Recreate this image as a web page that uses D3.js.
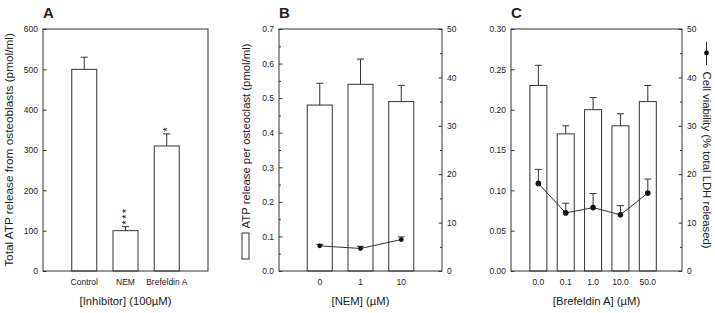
<!DOCTYPE html>
<html>
<head>
<meta charset="utf-8">
<script src="https://cdn.jsdelivr.net/npm/d3@7"></script>
<style>
  body { margin: 0; background: #fff; }
  svg text { font-family: "Liberation Sans", Arial, sans-serif; fill: #222; }
</style>
</head>
<body>
<div id="chart"></div>
<script>
// Panel A - total ATP release from osteoblasts
const catsA = ["Control", "NEM", "Brefeldin A"];
const atpA = [500, 100, 310];
const errA = [30, 10, 30];
const starsA = ["", "***", "*"];

// Panel B - NEM dose response
const nemDoses = ["0", "1", "10"];
const atpB = [0.48, 0.54, 0.49];
const errB = [0.063, 0.073, 0.047];
const ldhB = [5.2, 4.65, 6.5];
const ldhErrB = [0.3, 0.45, 0.55];

// Panel C - Brefeldin A dose response
const brefDoses = ["0.0", "0.1", "1.0", "10.0", "50.0"];
const atpC = [0.23, 0.17, 0.20, 0.18, 0.21];
const errC = [0.025, 0.01, 0.015, 0.015, 0.02];
const ldhC = [18.1, 12.0, 13.1, 11.6, 16.1];
const ldhErrC = [2.9, 2.0, 2.9, 1.9, 2.9];

// tick labels
const ticksA = [0, 100, 200, 300, 400, 500, 600];
const ticksB = [0, 0.1, 0.2, 0.3, 0.4, 0.5, 0.6, 0.7];
const ticksC = [0, 0.05, 0.10, 0.15, 0.20, 0.25, 0.30];
const ticksLdh = [0, 10, 20, 30, 40, 50];

const W = 715, H = 313;
const TOP = 29, BOTTOM = 271;
const ink = "#333";

const svg = d3.select("#chart").append("svg")
    .attr("width", W).attr("height", H);

// one framed panel with bars (+ optional line on right axis)
function drawPanel(opt) {
    const g = svg.append("g");
    const x = d3.scaleLinear().domain(opt.xDomain).range([opt.x0, opt.x1]);
    const y = d3.scaleLinear().domain(opt.yDomain).range([BOTTOM, TOP]);

    // left axis, ticks pointing inward
    g.append("g").attr("transform", `translate(${opt.x0},0)`)
        .call(d3.axisLeft(y).tickValues(opt.yTicks).tickSize(-3.5).tickPadding(5)
            .tickFormat(d3.format(opt.yFmt)));
    if (opt.yMinor) {
        g.append("g").attr("transform", `translate(${opt.x0},0)`)
            .call(d3.axisLeft(y).tickValues(opt.yMinor).tickSize(-2).tickFormat(""));
    }

    // bars
    g.selectAll("rect.bar").data(opt.values).enter().append("rect")
        .attr("class", "bar")
        .attr("x", (d, i) => x(i + 1) - opt.barW / 2)
        .attr("y", d => y(d))
        .attr("width", opt.barW)
        .attr("height", d => BOTTOM - y(d))
        .attr("fill", "#fff").attr("stroke", ink).attr("stroke-width", 1);

    // error bars (upper only)
    const eb = g.selectAll("g.err").data(opt.values).enter().append("g");
    eb.append("line")
        .attr("x1", (d, i) => x(i + 1)).attr("x2", (d, i) => x(i + 1))
        .attr("y1", d => y(d)).attr("y2", (d, i) => y(d + opt.errs[i]))
        .attr("stroke", ink);
    eb.append("line")
        .attr("x1", (d, i) => x(i + 1) - 3.5).attr("x2", (d, i) => x(i + 1) + 3.5)
        .attr("y1", (d, i) => y(d + opt.errs[i])).attr("y2", (d, i) => y(d + opt.errs[i]))
        .attr("stroke", ink);

    // right axis + viability line
    if (opt.line) {
        const y2 = d3.scaleLinear().domain([0, 50]).range([BOTTOM, TOP]);
        g.append("g").attr("transform", `translate(${opt.x1},0)`)
            .call(d3.axisRight(y2).tickValues(ticksLdh).tickSize(-3.5).tickPadding(5));
        g.append("g").attr("transform", `translate(${opt.x1},0)`)
            .call(d3.axisRight(y2).tickValues([5, 15, 25, 35, 45]).tickSize(-2).tickFormat(""));

        g.append("path")
            .datum(opt.line)
            .attr("d", d3.line().x((d, i) => x(i + 1)).y(d => y2(d)))
            .attr("fill", "none").attr("stroke", ink).attr("stroke-width", 1);
        const le = g.selectAll("g.lerr").data(opt.line).enter().append("g");
        le.append("line")
            .attr("x1", (d, i) => x(i + 1)).attr("x2", (d, i) => x(i + 1))
            .attr("y1", d => y2(d)).attr("y2", (d, i) => y2(d + opt.lineErr[i]))
            .attr("stroke", ink);
        le.append("line")
            .attr("x1", (d, i) => x(i + 1) - 3.5).attr("x2", (d, i) => x(i + 1) + 3.5)
            .attr("y1", (d, i) => y2(d + opt.lineErr[i])).attr("y2", (d, i) => y2(d + opt.lineErr[i]))
            .attr("stroke", ink);
        g.selectAll("circle.pt").data(opt.line).enter().append("circle")
            .attr("cx", (d, i) => x(i + 1)).attr("cy", d => y2(d))
            .attr("r", opt.dotR).attr("fill", "#111");
    }

    // frame
    g.append("rect").attr("x", opt.x0).attr("y", TOP)
        .attr("width", opt.x1 - opt.x0).attr("height", BOTTOM - TOP)
        .attr("fill", "none").attr("stroke", ink).attr("stroke-width", 1);

    g.selectAll(".domain").remove();
    g.selectAll(".tick line").attr("stroke", ink);
    g.selectAll(".tick text").attr("font-size", 8.5).attr("fill", "#222");

    // category labels
    g.selectAll("text.cat").data(opt.cats).enter().append("text")
        .attr("x", (d, i) => x(i + 1)).attr("y", 285)
        .attr("text-anchor", "middle").attr("font-size", 8.5)
        .text(d => d);

    // x title
    g.append("text").attr("x", (opt.x0 + opt.x1) / 2).attr("y", 305)
        .attr("text-anchor", "middle").attr("font-size", 11.3)
        .text(opt.xTitle);

    // panel letter
    g.append("text").attr("x", opt.x0).attr("y", 18)
        .attr("font-size", 15).attr("font-weight", "bold").attr("fill", "#111")
        .text(opt.letter);

    return { g, x, y };
}

// Panel A
const pA = drawPanel({
    x0: 43, x1: 208, xDomain: [0, 4], yDomain: [0, 600],
    yTicks: ticksA, yFmt: "d", values: atpA, errs: errA, barW: 25,
    cats: catsA, xTitle: "[Inhibitor] (100\u00b5M)", letter: "A"
});
// significance stars, stacked vertically above the error cap
starsA.forEach((s, i) => {
    if (!s) return;
    const top = pA.y(atpA[i] + errA[i]) - 2;
    pA.g.append("text")
        .attr("transform", `translate(${pA.x(i + 1) + 4},${top}) rotate(-90)`)
        .attr("text-anchor", "start").attr("font-size", 11.5)
        .attr("letter-spacing", 1.2)
        .attr("fill", "#222")
        .text(s);
});
svg.append("text")
    .attr("transform", "translate(13,150) rotate(-90)")
    .attr("text-anchor", "middle").attr("font-size", 11.8)
    .text("Total ATP release from osteoblasts (pmol/ml)");

// Panel B
drawPanel({
    x0: 279, x1: 442, xDomain: [0, 4], yDomain: [0, 0.7],
    yTicks: ticksB, yFmt: ".1f", yMinor: [0.05, 0.15, 0.25, 0.35, 0.45, 0.55, 0.65],
    values: atpB, errs: errB, barW: 25,
    line: ldhB, lineErr: ldhErrB, dotR: 2.4,
    cats: nemDoses, xTitle: "[NEM] (\u00b5M)", letter: "B"
});
svg.append("text")
    .attr("transform", "translate(249.5,136) rotate(-90)")
    .attr("text-anchor", "middle").attr("font-size", 11.3)
    .text("ATP release per osteoclast (pmol/ml)");
svg.append("rect")
    .attr("x", 242).attr("y", 233).attr("width", 7).attr("height", 26)
    .attr("fill", "#fff").attr("stroke", ink);

// Panel C
drawPanel({
    x0: 511, x1: 682, xDomain: [0, 6.25], yDomain: [0, 0.30],
    yTicks: ticksC, yFmt: ".2f",
    values: atpC, errs: errC, barW: 17,
    line: ldhC, lineErr: ldhErrC, dotR: 2.8,
    cats: brefDoses, xTitle: "[Brefeldin A] (\u00b5M)", letter: "C"
});
svg.append("text")
    .attr("transform", "translate(702.5,160) rotate(90)")
    .attr("text-anchor", "middle").attr("font-size", 11.3)
    .text("Cell viability (% total LDH released)");
svg.append("line")
    .attr("x1", 706.5).attr("x2", 706.5).attr("y1", 42).attr("y2", 65)
    .attr("stroke", ink);
svg.append("circle").attr("cx", 706.5).attr("cy", 53).attr("r", 2.4).attr("fill", "#111");
</script>
</body>
</html>
